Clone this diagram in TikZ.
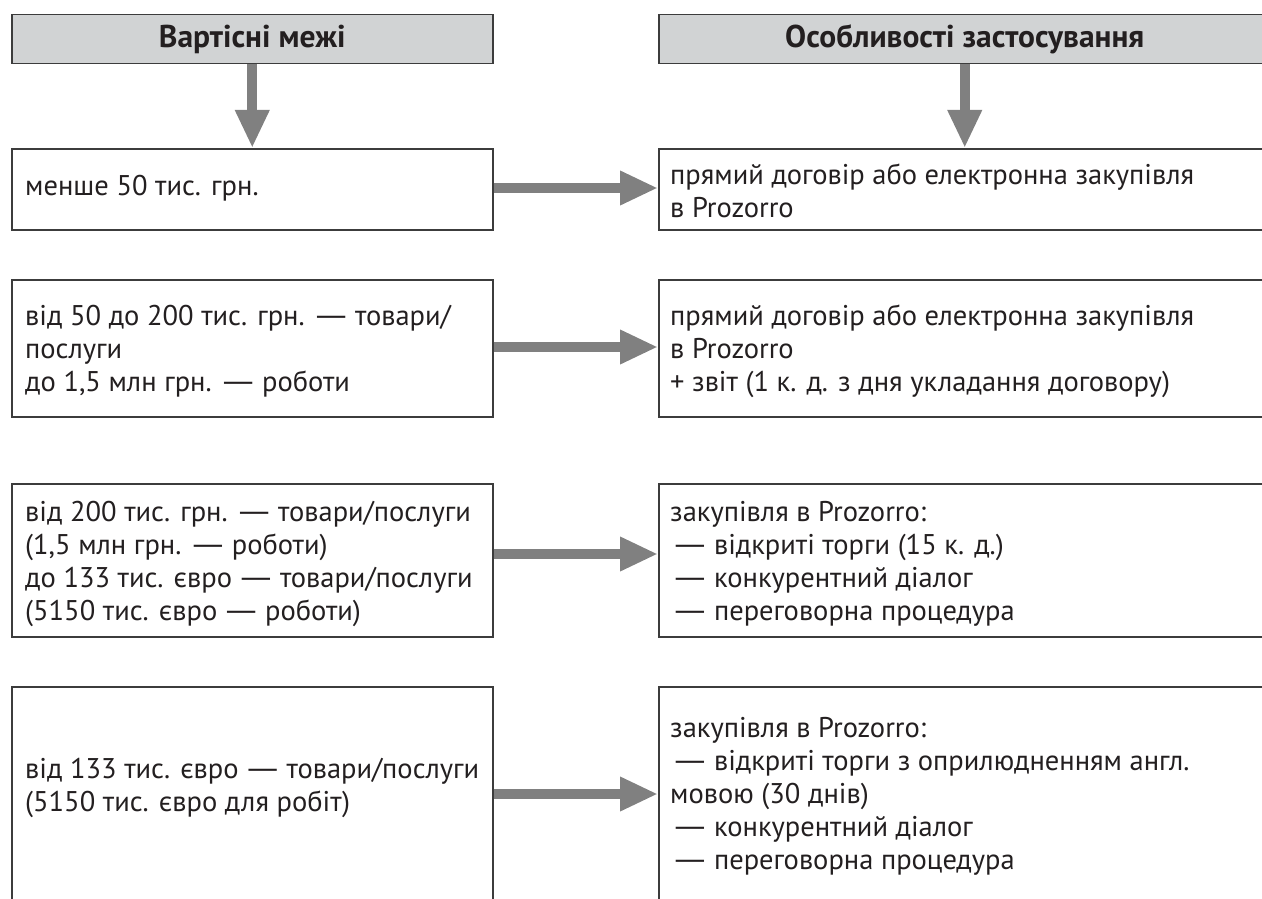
\documentclass[tikz,border=0pt]{standalone}
\usepackage{fontspec}
\usepackage{graphicx}
\setmainfont{PT Sans}
\usetikzlibrary{arrows.meta}
\definecolor{hdrfill}{RGB}{209,211,212}
\definecolor{frame}{RGB}{60,60,60}
\definecolor{arrowgray}{RGB}{128,128,128}
\definecolor{ink}{RGB}{35,31,32}
\newcommand{\md}{\kern-3.5pt\scalebox{1.7}[1]{—}\kern-3.5pt}
\newcommand{\mdl}{\scalebox{1.7}[1]{—}\kern-3.5pt}
\begin{document}
\begin{tikzpicture}[x=1pt,y=-1pt,
  frm/.style={draw=frame, line width=1.5pt, anchor=north west, inner sep=0pt},
  hdr/.style={frm, fill=hdrfill, text=ink, font=\bfseries\fontsize{31.5}{36}\selectfont},
  txt/.style={anchor=west, align=left, inner sep=0pt, font=\fontsize{28.5}{33}\selectfont, text=ink},
  bigarrow/.style={draw=arrowgray, line width=10pt, -{Triangle[length=38pt,width=32pt]}}]
\useasboundingbox (0,0) rectangle (1262,899);
% headers
\node[hdr, minimum width=481pt, minimum height=49pt] (hl) at (11,14) {Вартісні межі};
\node[hdr, minimum width=612pt, minimum height=49pt] (hr) at (658,14) {Особливості застосування};
% boxes
\node[frm, minimum width=481pt, minimum height=81pt] (l1) at (11,148) {};
\node[frm, minimum width=612pt, minimum height=81pt] (r1) at (658,148) {};
\node[frm, minimum width=481pt, minimum height=137pt] (l2) at (11,279) {};
\node[frm, minimum width=612pt, minimum height=137pt] (r2) at (658,279) {};
\node[frm, minimum width=481pt, minimum height=153pt] (l3) at (11,483) {};
\node[frm, minimum width=612pt, minimum height=153pt] (r3) at (658,483) {};
\node[frm, minimum width=481pt, minimum height=244pt] (l4) at (11,686) {};
\node[frm, minimum width=612pt, minimum height=244pt] (r4) at (658,686) {};
% texts
\node[txt] (tl1) at (25,188) {менше 50 тис. грн.};
\node[txt] (tr1) at (670,191) {прямий договір або електронна закупівля\\в Prozorro};
\node[txt] (tl2) at (25,351) {від 50 до 200 тис. грн. \md{} товари/\\послуги\\до 1,5 млн грн. \md{} роботи};
\node[txt] (tr2) at (670,351) {прямий договір або електронна закупівля\\в Prozorro\\+ звіт (1 к. д. з дня укладання договору)};
\node[txt] (tl3) at (25,564) {від 200 тис. грн. \md{} товари/послуги\\(1,5 млн грн. \md{} роботи)\\до 133 тис. євро \md{} товари/послуги\\(5150 тис. євро \md{} роботи)};
\node[txt] (tr3) at (670,564) {закупівля в Prozorro:\\\mdl{} відкриті торги (15 к. д.)\\\mdl{} конкурентний діалог\\\mdl{} переговорна процедура};
\node[txt] (tl4) at (25,788) {від 133 тис. євро \md{} товари/послуги\\(5150 тис. євро для робіт)};
\node[txt] (tr4) at (670,796) {закупівля в Prozorro:\\\mdl{} відкриті торги з оприлюдненням англ.\\мовою (30 днів)\\\mdl{} конкурентний діалог\\\mdl{} переговорна процедура};
% arrow levels
\coordinate (a1) at (0,188);
\coordinate (a2) at (0,347);
\coordinate (a3) at (0,554);
\coordinate (a4) at (0,794);
% arrows
\draw[bigarrow] (hl.south) -- (l1.north);
\draw[bigarrow] (hr.south) -- (r1.north);
\draw[bigarrow] (l1.east |- a1) -- (r1.west |- a1);
\draw[bigarrow] (l2.east |- a2) -- (r2.west |- a2);
\draw[bigarrow] (l3.east |- a3) -- (r3.west |- a3);
\draw[bigarrow] (l4.east |- a4) -- (r4.west |- a4);
\end{tikzpicture}
\end{document}
